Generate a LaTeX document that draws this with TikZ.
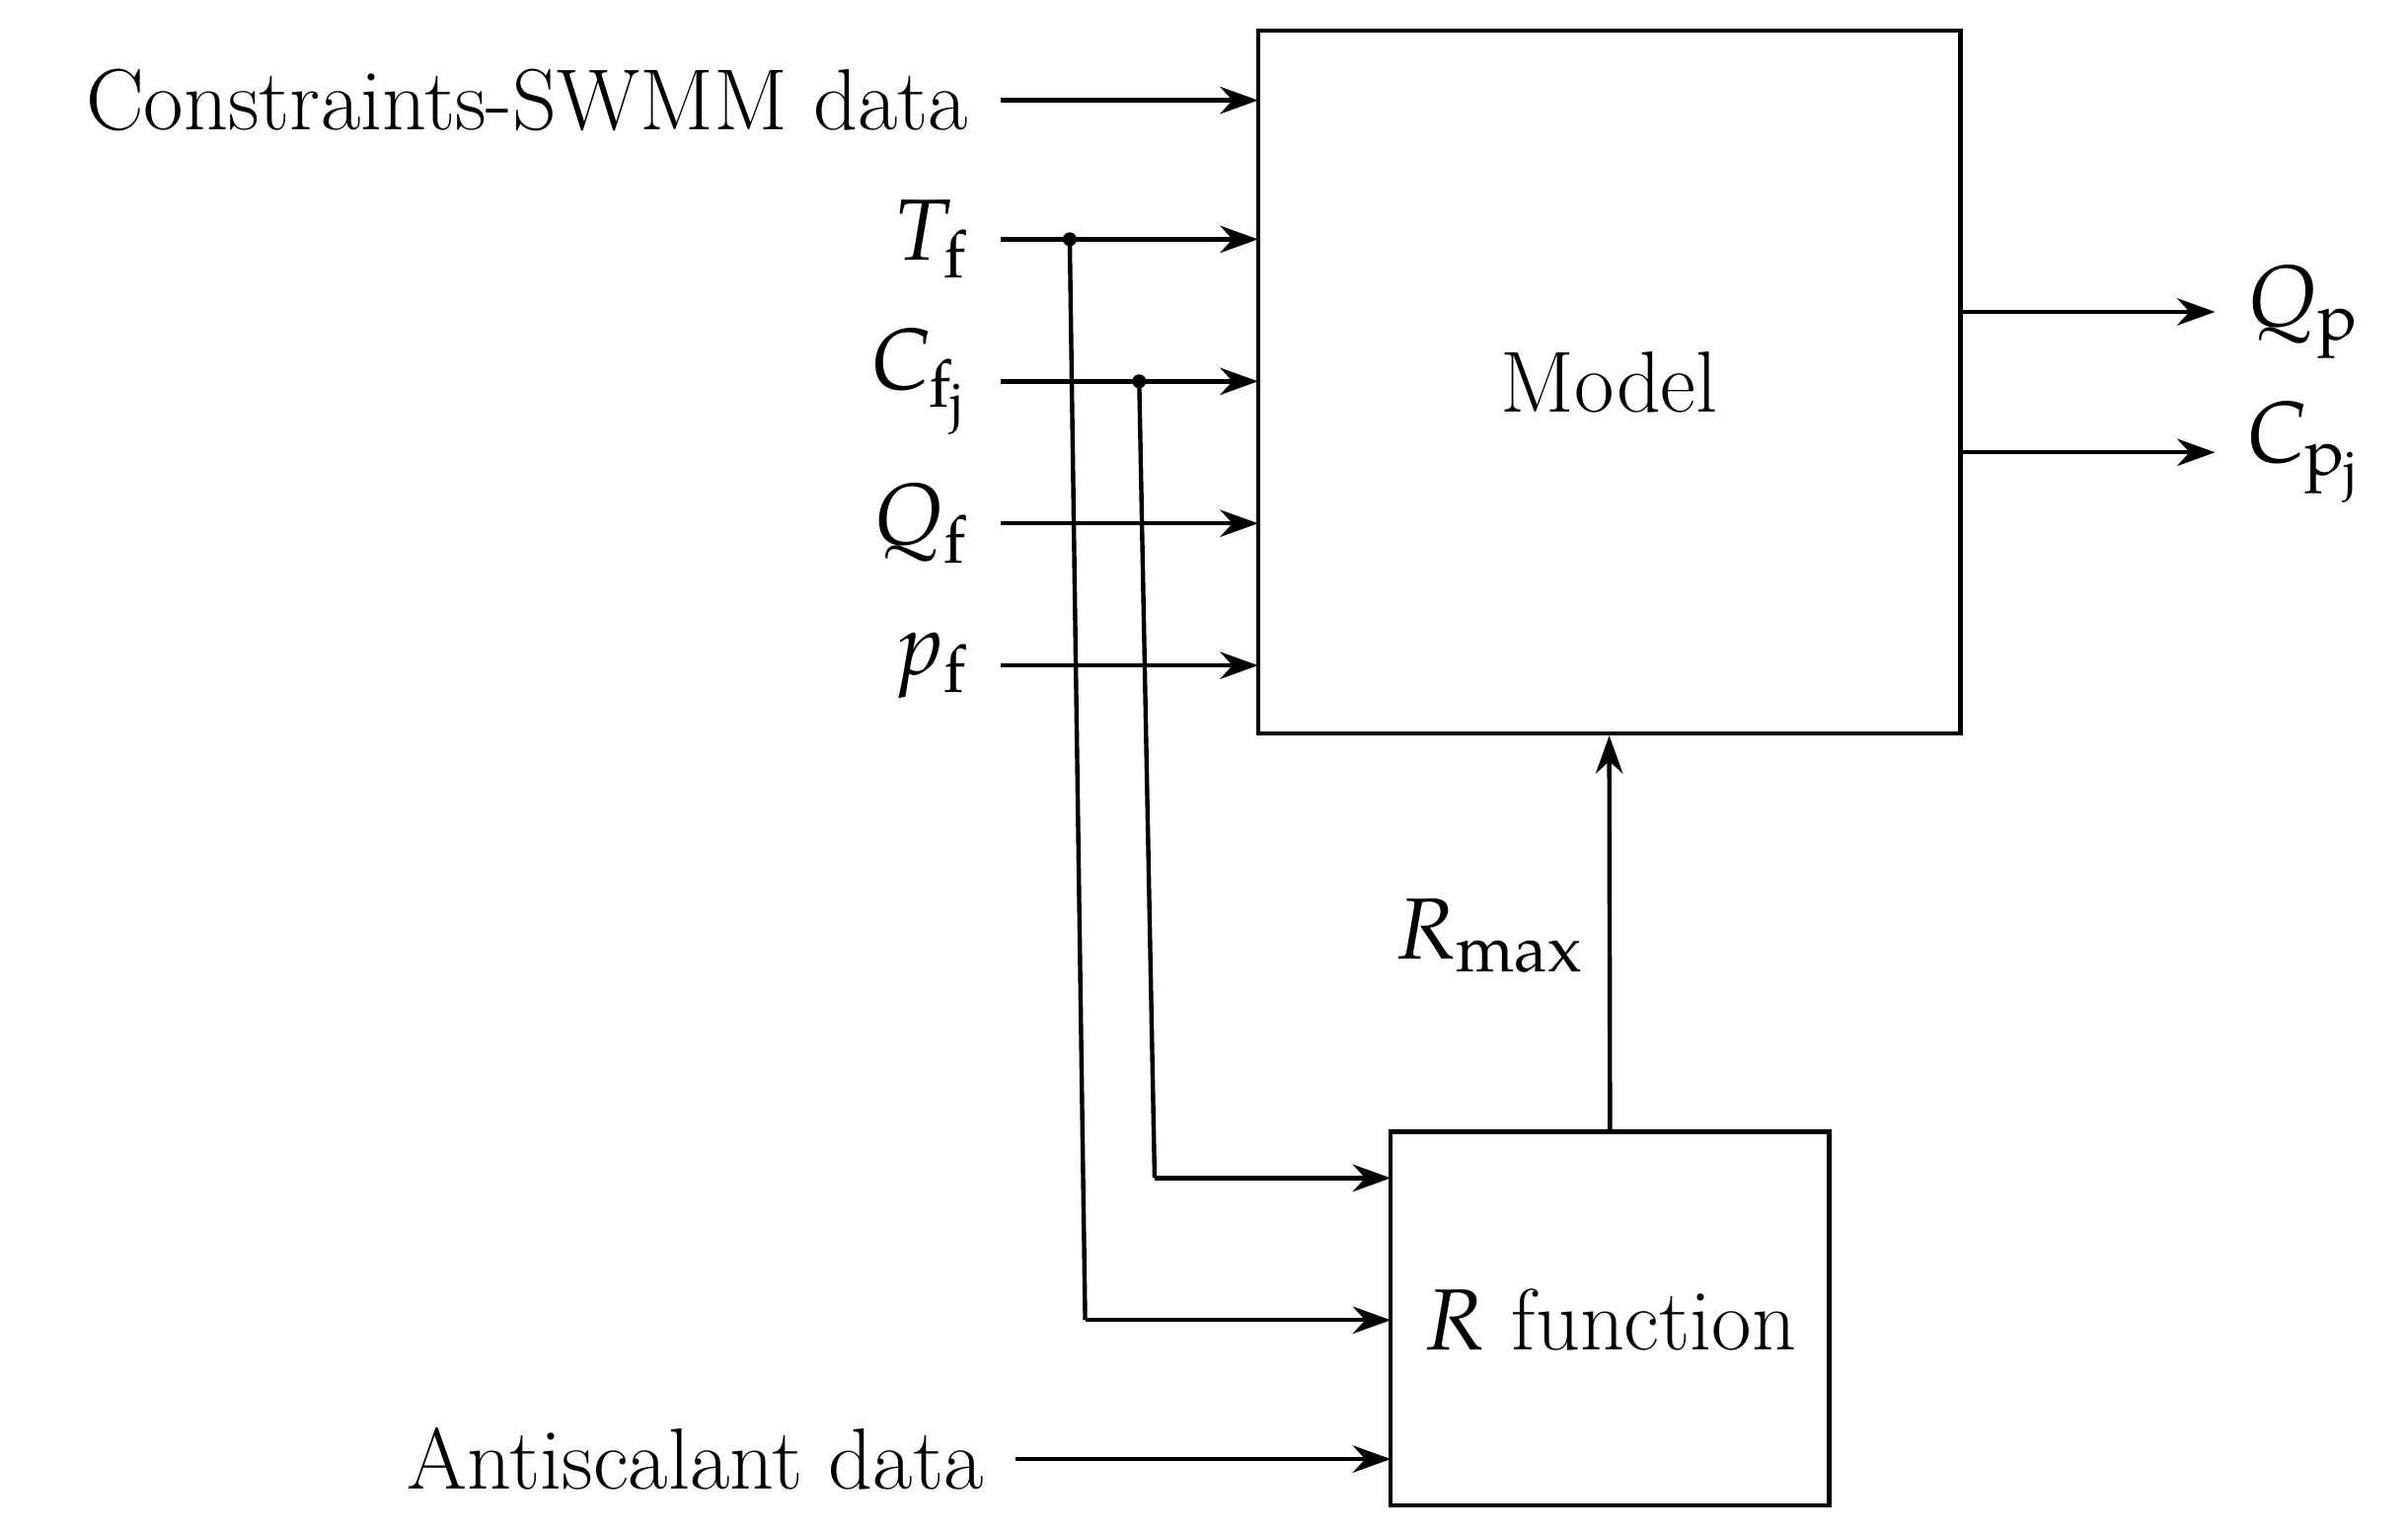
\documentclass[tikz,border=0pt]{standalone}
\usepackage{mathpazo}
\usetikzlibrary{arrows.meta}
\begin{document}
\begin{tikzpicture}[x=1cm,y=1cm,
  every node/.style={font=\fontsize{16}{19}\selectfont},
  box/.style={draw,line width=0.8pt,inner sep=0},
  arr/.style={-{Stealth[length=7pt,width=5pt]},line width=0.8pt},
  ln/.style={line width=0.8pt},
  lbl/.style={anchor=east,inner sep=0}]
\useasboundingbox (0,0) rectangle (15.6,9.94);
\node[box,minimum width=4.55cm,minimum height=4.55cm] (model) at (10.425,7.465) {Model};
\node[box,minimum width=2.84cm,minimum height=2.42cm] (rf) at (10.43,1.40) {};
\node (rfl) at (10.43,1.39) {$R$ function};
% input labels
\node[lbl] (l1) at (6.28,9.29) {Constraints-SWMM data};
\node[lbl] (l2) at (6.28,8.39) {$T_{\mathrm{f}}$};
\node[lbl] (l3) at (6.28,7.47) {$C_{\mathrm{f_j}}$};
\node[lbl] (l4) at (6.28,6.55) {$Q_{\mathrm{f}}$};
\node[lbl] (l5) at (6.28,5.63) {$p_{\mathrm{f}}$};
\node[lbl] (l6) at (6.38,0.49) {Antiscalant data};
\coordinate (s1) at (6.48,9.29);
\coordinate (s2) at (6.48,8.39);
\coordinate (s3) at (6.48,7.47);
\coordinate (s4) at (6.48,6.55);
\coordinate (s5) at (6.48,5.63);
\coordinate (s6) at (6.58,0.49);
\coordinate (e1) at (8.15,9.29);
\coordinate (e2) at (8.15,8.39);
\coordinate (e3) at (8.15,7.47);
\coordinate (e4) at (8.15,6.55);
\coordinate (e5) at (8.15,5.63);
\coordinate (e6) at (9.01,0.49);
\foreach \i in {1,...,6} \draw[arr] (s\i) -- (e\i);
% taps
\coordinate (d1) at (6.93,8.39);
\coordinate (d2) at (7.38,7.47);
\coordinate (b1) at (7.03,1.39);
\coordinate (b2) at (7.48,2.31);
\coordinate (r1) at (9.01,1.39);
\coordinate (r2) at (9.01,2.31);
\fill (d1) circle (0.045);
\fill (d2) circle (0.045);
\draw[ln] (d1) -- (b1);
\draw[arr] (b1) -- (r1);
\draw[ln] (d2) -- (b2);
\draw[arr] (b2) -- (r2);
% outputs
\coordinate (o1) at (12.70,7.92);
\coordinate (o2) at (12.70,7.01);
\coordinate (t1) at (14.35,7.92);
\coordinate (t2) at (14.35,7.01);
\draw[arr] (o1) -- (t1);
\draw[arr] (o2) -- (t2);
\node[anchor=west,inner sep=0] (q) at (14.55,7.92) {$Q_{\mathrm{p}}$};
\node[anchor=west,inner sep=0] (c) at (14.55,7.01) {$C_{\mathrm{p_j}}$};
% Rmax
\draw[arr] (rf.north) -- (model.south);
\node (rm) at (9.65,3.88) {$R_{\max}$};
\end{tikzpicture}
\end{document}
